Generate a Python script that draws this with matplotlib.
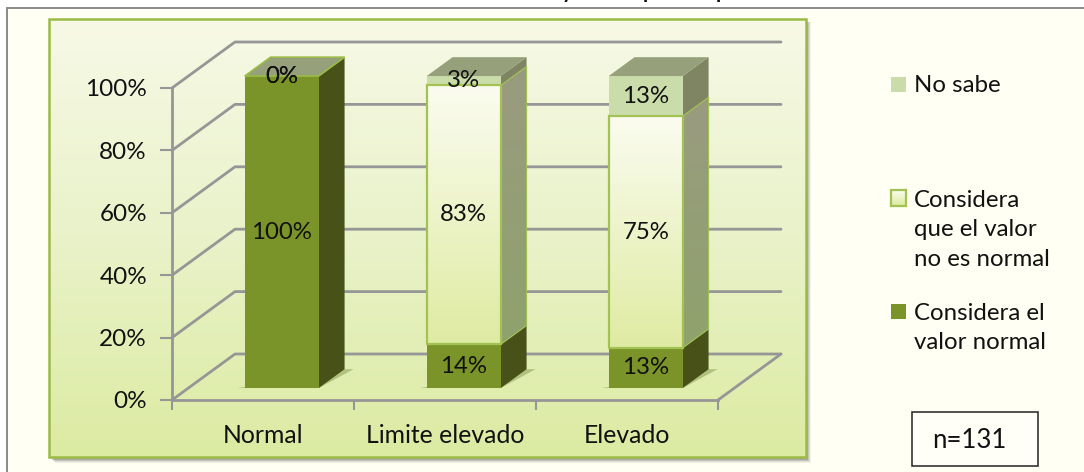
import matplotlib
matplotlib.use('Agg')
import matplotlib.pyplot as plt
import numpy as np
from matplotlib.colors import LinearSegmentedColormap
from matplotlib.patches import Polygon, Rectangle

categories = ['Normal', 'Limite elevado', 'Elevado']
# percentages printed on the bars, bottom to top
valor_normal = [100, 14, 13]
no_normal = [0, 83, 75]
no_sabe = [0, 3, 13]
series_labels = ['Considera el\nvalor normal', 'Considera\nque el valor\nno es normal', 'No sabe']
y_ticks = [0, 20, 40, 60, 80, 100]
sample_text = 'n=131'

W, H = 1084, 472

plt.rcParams['font.family'] = ['Lato', 'DejaVu Sans']

fig = plt.figure(figsize=(W / 100, H / 100), dpi=100, facecolor='white')


def px_box(x0, y0, x1, y1):
    # axes rectangle from pixel corners, y measured from the top
    return [x0 / W, 1 - y1 / H, (x1 - x0) / W, (y1 - y0) / H]


# whole-figure layer in pixels for the frame and the panel
bg = fig.add_axes([0, 0, 1, 1], zorder=0)
bg.set_xlim(0, W)
bg.set_ylim(H, 0)
bg.axis('off')

bg.add_patch(Rectangle((7, 8), W, H, fc='#fffff3', ec='#8a8a8a', lw=1.4))
# soft shadow under the panel
for i, a in enumerate([0.08, 0.12, 0.18, 0.25]):
    off = 5 - i
    bg.add_patch(Rectangle((50 + off, 22), 756, 436 + off, fc='#555555', ec='none', alpha=a))

# bits of the heading line that reach into the frame
for ch, tx in [('y', 562), ('p', 643), ('p', 716)]:
    bg.text(tx, -2.5, ch, fontsize=15, fontweight='bold', color='#111111', va='baseline', clip_on=True)

panel_cmap = LinearSegmentedColormap.from_list('panel', ['#f7f9e6', '#e9f2c9', '#dcebA2'])
grad = np.linspace(0, 1, 256).reshape(-1, 1)
bg.imshow(grad, extent=(49, 806, 457, 19), aspect='auto', cmap=panel_cmap, zorder=2)
bg.add_patch(Rectangle((49, 19), 757, 438, fc='none', ec='#9bbb45', lw=1.8, zorder=3))
bg.set_xlim(0, W)
bg.set_ylim(H, 0)

# chart axes: the front wall of the 3-D box
ax = fig.add_axes(px_box(172, 88, 718, 400), zorder=1)
ax.patch.set_alpha(0)
ax.set_xlim(-0.5, 2.5)
ax.set_ylim(0, 100)

for s in ['top', 'right']:
    ax.spines[s].set_visible(False)
for s in ['left', 'bottom']:
    ax.spines[s].set_color('#969696')
    ax.spines[s].set_linewidth(2)

x_pos = np.arange(len(categories))
ax.set_xticks([-0.5, 0.5, 1.5, 2.5])
ax.set_xticklabels([])
ax.set_xticks(x_pos, minor=True)
ax.set_xticklabels(categories, minor=True, fontsize=17.8, color='#111111')
ax.tick_params(axis='x', which='major', length=7, width=1.5, color='#969696')
ax.tick_params(axis='x', which='minor', length=0, pad=17)
ax.set_yticks(y_ticks)
ax.set_yticklabels([f'{v}%' for v in y_ticks], fontsize=17.5, color='#111111')
ax.tick_params(axis='y', length=9, width=1.5, color='#969696', pad=9)

# oblique projection: depth 1 moves a point to the back wall
shear_x = 63 / 182
shear_y = 46 / 3.12


def proj(x, y, z):
    return (x + z * shear_x, y + z * shear_y)


def poly(points, **kw):
    kw.setdefault('clip_on', False)
    p = Polygon([proj(*q) for q in points], closed=True, **kw)
    ax.add_patch(p)
    return p


def grad_poly(points, colors, zorder):
    # vertical colour ramp clipped to a polygon
    p = poly(points, fc='none', ec='none', zorder=zorder)
    ys = [proj(*q)[1] for q in points]
    xs = [proj(*q)[0] for q in points]
    cmap = LinearSegmentedColormap.from_list('face', colors)
    im = ax.imshow(grad, extent=(min(xs), max(xs), min(ys), max(ys)), origin='upper',
                   aspect='auto', cmap=cmap, zorder=zorder)
    im.set_clip_box(fig.bbox)
    im.set_clip_path(p)


# walls
wall_kw = dict(color='#969696', lw=2, clip_on=False, zorder=1, solid_capstyle='round')
for v in y_ticks:
    ax.plot(*zip(proj(-0.5, v, 0), proj(-0.5, v, 1), proj(2.5, v, 1)), **wall_kw)
ax.plot(*zip(proj(2.5, 0, 1), proj(2.5, 0, 0)), **wall_kw)

# bar footprint inside the box
half = 37 / 182
z0, z1 = 0.26, 0.67
shift = 0.013

totals = np.array(valor_normal) + np.array(no_normal) + np.array(no_sabe)
front_cols = ['#7a9429', None, '#cbdcab']
side_cols = ['#475118', None, '#7f8563']
top_col = '#96a07a'

for i in range(len(categories)):
    xa, xb = x_pos[i] - half + shift, x_pos[i] + half + shift
    # shadow on the floor
    poly([(xa - 0.04, 0, z0), (xb, 0, z0), (xb + 0.05, 0, z1), (xb, 0, z1), (xa, 0, z0 + 0.03)],
         fc='#a4b86f', ec='none', alpha=0.8, zorder=2)

    vals = [valor_normal[i], no_normal[i], no_sabe[i]]
    # 100 % stacked: the printed values do not always add up to exactly 100
    shares = np.array(vals) / totals[i] * 100
    base = 0
    for j, sh in enumerate(shares):
        top = base + sh
        if sh > 0:
            front = [(xa, base, z0), (xb, base, z0), (xb, top, z0), (xa, top, z0)]
            side = [(xb, base, z0), (xb, base, z1), (xb, top, z1), (xb, top, z0)]
            if j == 1:
                grad_poly(side, ['#9a9b80', '#8fa26c'], 3)
                grad_poly(front, ['#fbfcf0', '#dfeba2'], 3)
                poly(front, fc='none', ec='#a3c254', lw=1.6, zorder=4)
                poly(side, fc='none', ec='#a3c254', lw=0.8, zorder=4)
            else:
                poly(side, fc=side_cols[j], ec='none', zorder=3)
                poly(front, fc=front_cols[j], ec='none', zorder=3)
        base = top
    # lid of the stack
    lid = [(xa, 100, z0), (xb, 100, z0), (xb, 100, z1), (xa, 100, z1)]
    poly(lid, fc=top_col, ec='#9bbb45' if i == 0 else 'none', lw=1.2, zorder=4)

    # value labels, placed on the front face of each segment
    base = 0
    for v, sh in zip(vals, shares):
        tx, ty = proj(x_pos[i], base + sh / 2, z0)
        ax.text(tx + shift, ty, f'{v}%', ha='center', va='center', fontsize=17.3,
                color='#111111', zorder=6, clip_on=False)
        base += sh

# legend written out by hand to keep the wide spacing between entries
leg_swatch = [('#7a9429', 'none', 304, 319), (None, '#a3c254', 190, 206), ('#cbdcab', 'none', 77, 92)]
leg_text_y = [328, 230, 85]
for lab, (fc, ec, y0, y1), ty in zip(series_labels, leg_swatch, leg_text_y):
    if fc is None:
        bg.imshow(grad, extent=(892, 906, y1 - 0.5, y0 + 0.5), aspect='auto',
                  cmap=LinearSegmentedColormap.from_list('s', ['#fbfcf0', '#dfeba2']), zorder=2)
        bg.add_patch(Rectangle((891, y0), 15, y1 - y0, fc='none', ec=ec, lw=1.6, zorder=3))
    else:
        bg.add_patch(Rectangle((891, y0), 15, y1 - y0, fc=fc, ec='none', zorder=3))
    bg.text(914, ty, lab, fontsize=17.3, color='#111111', va='center', linespacing=1.5)
bg.set_xlim(0, W)
bg.set_ylim(H, 0)

# sample size box
bg.add_patch(Rectangle((912, 412), 126, 54, fc='#fffff8', ec='#222222', lw=1.1, zorder=3))
bg.text(969, 440, sample_text, fontsize=18.5, color='#111111', ha='center', va='center', zorder=4)

fig.savefig('out.png', dpi=100)
